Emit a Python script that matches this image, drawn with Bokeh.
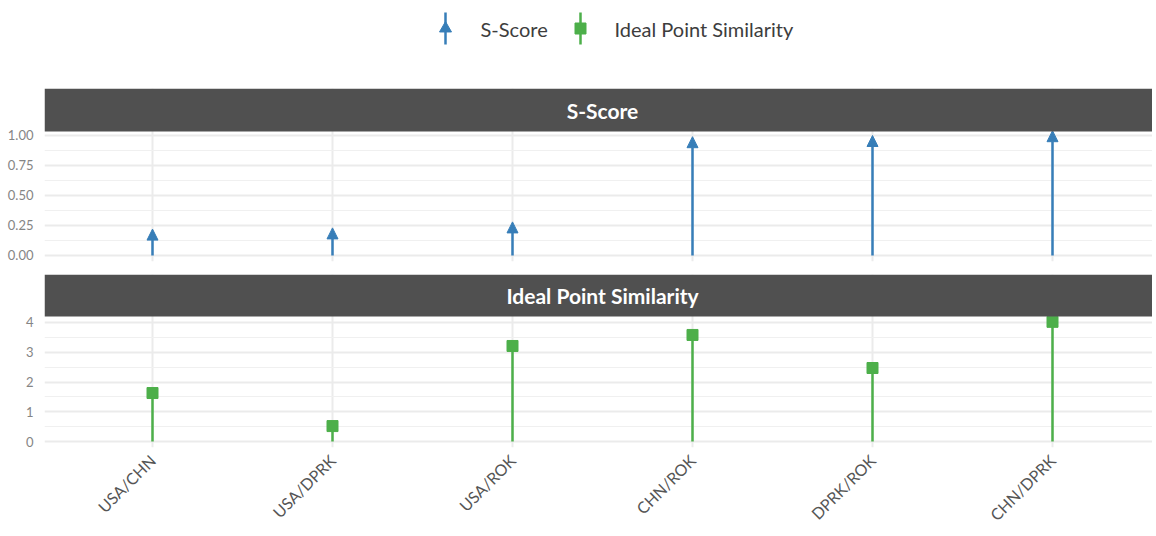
import numpy as np
from bokeh.plotting import figure
from bokeh.layouts import column
from bokeh.models import (ColumnDataSource, Range1d, FixedTicker, Arrow, NormalHead,
                          BoxAnnotation, Label)
from bokeh.core.properties import value
from bokeh.embed import file_html
from bokeh.resources import INLINE

# ---- data ----
pairs = ["USA/CHN", "USA/DPRK", "USA/ROK", "CHN/ROK", "DPRK/ROK", "CHN/DPRK"]
s_score = [0.22, 0.23, 0.28, 0.99, 1.00, 1.04]
ideal_point = [1.63, 0.52, 3.21, 3.58, 2.47, 4.02]
panel_names = ["S-Score", "Ideal Point Similarity"]
s_ticks = [0.0, 0.25, 0.5, 0.75, 1.0]
s_minor = [0.125, 0.375, 0.625, 0.875]
s_tick_labels = ["0.00", "0.25", "0.50", "0.75", "1.00"]
ip_ticks = [0, 1, 2, 3, 4]
ip_minor = [0.5, 1.5, 2.5, 3.5]

BLUE = "#377EB8"
GREEN = "#4DAF4A"
STRIP = "#505050"
FONT = "Lato"
W = 1152
LEFT = 44

xs = list(range(1, len(pairs) + 1))
x_range = Range1d(0.4, 0.4 + (W - LEFT) / 180.0)


def make_panel(lo, hi, panel_px, strip_px, bottom_px, ticks, minor, labels=None):
    ppu = panel_px / (hi - lo)
    top = hi + strip_px / ppu
    p = figure(width=W, height=panel_px + strip_px + bottom_px, x_range=x_range,
               y_range=Range1d(lo, top), min_border_left=LEFT, min_border_right=0,
               min_border_top=0, min_border_bottom=bottom_px,
               toolbar_location=None, output_backend="svg")
    p.background_fill_color = "white"
    p.outline_line_color = None
    p.yaxis.ticker = FixedTicker(ticks=ticks, minor_ticks=minor)
    p.ygrid.ticker = FixedTicker(ticks=ticks, minor_ticks=minor)
    p.xgrid.ticker = FixedTicker(ticks=xs)
    p.ygrid.grid_line_color = "#EBEBEB"
    p.ygrid.grid_line_width = 2
    p.ygrid.minor_grid_line_color = "#F0F0F0"
    p.ygrid.minor_grid_line_width = 1.2
    p.xgrid.grid_line_color = "#EBEBEB"
    p.xgrid.grid_line_width = 2
    ax = p.yaxis[0]
    ax.axis_line_color = None
    ax.major_tick_line_color = None
    ax.minor_tick_line_color = None
    ax.major_tick_out = 0
    ax.major_tick_in = 0
    ax.minor_tick_out = 0
    ax.major_label_standoff = 11
    ax.major_label_text_font = FONT
    ax.major_label_text_font_size = "13px"
    ax.major_label_text_color = "#858585"
    if labels:
        ax.major_label_overrides = {t: l for t, l in zip(ticks, labels)}
    return p, hi, top


def add_strip(p, name, hi, top):
    p.add_layout(BoxAnnotation(bottom=hi, fill_color=STRIP, fill_alpha=1,
                               line_color=None, level="annotation"))
    p.add_layout(Label(x=3.5, y=(hi + top) / 2, text=name, text_align="center",
                       text_baseline="middle", text_font=FONT,
                       text_font_style="bold", text_color="white",
                       text_font_size="21px"))


# ---- legend ----
leg = figure(width=W, height=88, x_range=Range1d(LEFT, W), y_range=Range1d(88, 0),
             x_axis_location=None, y_axis_location=None, min_border=0,
             min_border_left=LEFT, min_border_right=0, min_border_top=0,
             min_border_bottom=0, toolbar_location=None, output_backend="svg",
             outline_line_color=None)
leg.grid.visible = False
leg.segment(x0=[445], y0=[44], x1=[445], y1=[12], line_color=BLUE, line_width=2.5)
leg.scatter(x=[445], y=[28], marker="triangle", size=12, color=BLUE)
leg.segment(x0=[580], y0=[44], x1=[580], y1=[12], line_color=GREEN, line_width=2.5)
leg.scatter(x=[580], y=[28], marker="square", size=11, color=GREEN)
leg.text(x=[480, 614], y=[28, 28], text=panel_names, text_align="left",
         text_baseline="middle", text_font=value(FONT), text_font_size="20px",
         text_color="#3d3d3d")

# ---- panel 1: S-Score ----
p1, hi1, top1 = make_panel(-0.05, 1.0333, 130, 43, 13, s_ticks, s_minor, s_tick_labels)
p1.xaxis.visible = False
src1 = ColumnDataSource(dict(x=xs, y0=[0] * len(xs), y1=s_score))
p1.add_layout(Arrow(source=src1, x_start="x", y_start="y0", x_end="x", y_end="y1",
                    line_color=BLUE, line_width=2.5,
                    end=NormalHead(size=11, fill_color=BLUE, line_color=BLUE, line_width=1)))
add_strip(p1, panel_names[0], hi1, top1)

# ---- panel 2: Ideal Point Similarity ----
p2, hi2, top2 = make_panel(-0.2, 4.2, 131, 42, 88, ip_ticks, ip_minor)
src2 = ColumnDataSource(dict(x=xs, y0=[0] * len(xs), y1=ideal_point))
p2.segment(x0="x", y0="y0", x1="x", y1="y1", source=src2, line_color=GREEN, line_width=2.5)
p2.scatter(x="x", y="y1", source=src2, marker="square", size=11, color=GREEN)
add_strip(p2, panel_names[1], hi2, top2)
xa = p2.xaxis[0]
xa.ticker = FixedTicker(ticks=xs)
xa.major_label_overrides = {x: l for x, l in zip(xs, pairs)}
xa.major_label_orientation = np.pi / 4
xa.axis_line_color = None
xa.major_tick_line_color = None
xa.minor_tick_line_color = None
xa.major_tick_out = 0
xa.major_tick_in = 0
xa.minor_tick_out = 0
xa.major_label_text_font = FONT
xa.major_label_text_font_size = "16px"
xa.major_label_text_color = "#555555"
xa.major_label_standoff = 10

layout = column(leg, p1, p2, spacing=0)
open("out.html", "w").write(file_html(layout, INLINE))
